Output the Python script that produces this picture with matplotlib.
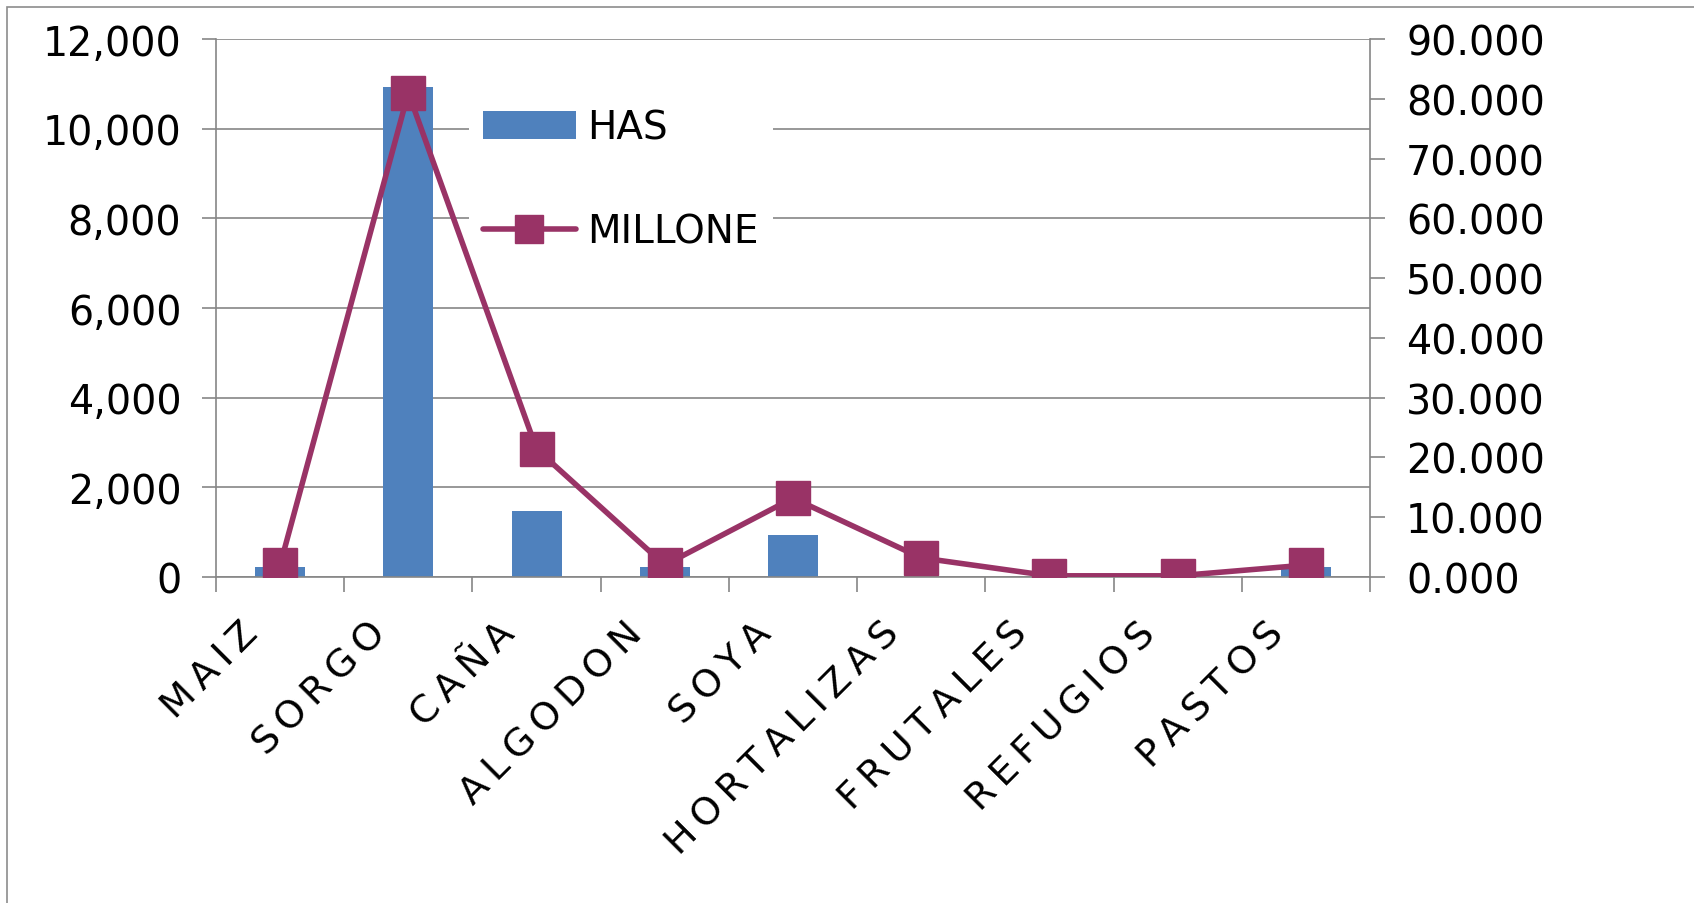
import matplotlib
matplotlib.use("Agg")
import matplotlib.pyplot as plt
from matplotlib.ticker import FuncFormatter, FixedLocator, NullFormatter
from matplotlib.patches import Rectangle, Patch
from matplotlib.lines import Line2D
from matplotlib.transforms import ScaledTranslation
import numpy as np

categories = ["MAIZ", "SORGO", "CAÑA", "ALGODON", "SOYA", "HORTALIZAS", "FRUTALES", "REFUGIOS", "PASTOS"]
has_values = [230, 10920, 1480, 230, 940, 0, 0, 0, 230]
millones_values = [2.0, 81.0, 21.4, 2.0, 13.2, 3.2, 0.2, 0.2, 2.0]
left_ticks = [0, 2000, 4000, 6000, 8000, 10000, 12000]
right_ticks = [0, 10, 20, 30, 40, 50, 60, 70, 80, 90]
series_names = ["HAS", "MILLONE"]

BAR = "#4F81BD"
LINE = "#993366"
GRID = "#868686"

W, H = 1694, 904
plt.rcParams['font.family'] = ['DejaVu Sans']
fig = plt.figure(figsize=(W / 100, H / 100), dpi=100)

# outer chart border
fig.patches.append(Rectangle((7 / W, -0.1), 1.2, 1 - 8 / H + 0.1, transform=fig.transFigure,
                             fill=False, edgecolor="#8c8c8c", linewidth=1.2))

L, R, T, B = 216, 1370, 40, 578
ax = fig.add_axes([L / W, 1 - B / H, (R - L) / W, (B - T) / H])
x = np.arange(len(categories))
ax.bar(x, has_values, width=0.39, color=BAR, zorder=2)
ax.set_xlim(-0.5, len(categories) - 0.5)
ax.set_ylim(0, 12000)
ax.set_yticks(left_ticks)
ax.yaxis.set_major_formatter(FuncFormatter(lambda v, p: f"{int(v):,}"))
ax.grid(axis='y', color=GRID, linewidth=1.2, zorder=0)
ax.set_axisbelow(True)
for s in ["top", "right"]:
    ax.spines[s].set_visible(False)
for s in ["left", "bottom"]:
    ax.spines[s].set_color(GRID)
    ax.spines[s].set_linewidth(1.2)
ax.tick_params(axis='y', length=10, width=1.2, color=GRID, labelsize=28.5, pad=15, direction='out')

# x ticks at category boundaries
ax.xaxis.set_major_locator(FixedLocator(np.arange(-0.5, len(categories), 1.0)))
ax.xaxis.set_major_formatter(NullFormatter())
ax.tick_params(axis='x', which='major', length=11, width=1.2, color=GRID, direction='out')

# rotated, letter-spaced category labels
off = ScaledTranslation(-40 / 100, -38 / 100, fig.dpi_scale_trans)
for xi, cat in zip(x, categories):
    ax.text(xi, 0, "\u2009".join(cat), transform=ax.get_xaxis_transform() + off,
            rotation=45, ha='right', va='top', rotation_mode='anchor', fontsize=27.5)

handles = [Patch(facecolor=BAR, edgecolor='none'),
           Line2D([0], [0], color=LINE, linewidth=4, marker='s', markersize=19.5,
                  markerfacecolor=LINE, markeredgecolor=LINE, solid_capstyle='round')]
leg = ax.legend(handles, series_names, loc='upper left',
                bbox_to_anchor=(469 / W, 1 - 96 / H), bbox_transform=fig.transFigure,
                frameon=True, fancybox=False, framealpha=1, facecolor='white', edgecolor='none',
                fontsize=28, handlelength=2.4, handletextpad=0.3, labelspacing=1.7,
                borderpad=0.35, borderaxespad=0)

ax2 = ax.twinx()
ax2.plot(x, millones_values, color=LINE, linewidth=4, marker='s', markersize=24,
         markerfacecolor=LINE, markeredgecolor=LINE, zorder=3)
ax2.set_ylim(0, 90)
ax2.set_yticks(right_ticks)
ax2.yaxis.set_major_formatter(FuncFormatter(lambda v, p: f"{v:.3f}"))
for s in ["top", "left", "bottom"]:
    ax2.spines[s].set_visible(False)
ax2.spines["right"].set_color(GRID)
ax2.spines["right"].set_linewidth(1.2)
ax2.tick_params(axis='y', length=11, width=1.2, color=GRID, labelsize=28.5, pad=15, direction='out')

fig.savefig("out.png", dpi=100)
